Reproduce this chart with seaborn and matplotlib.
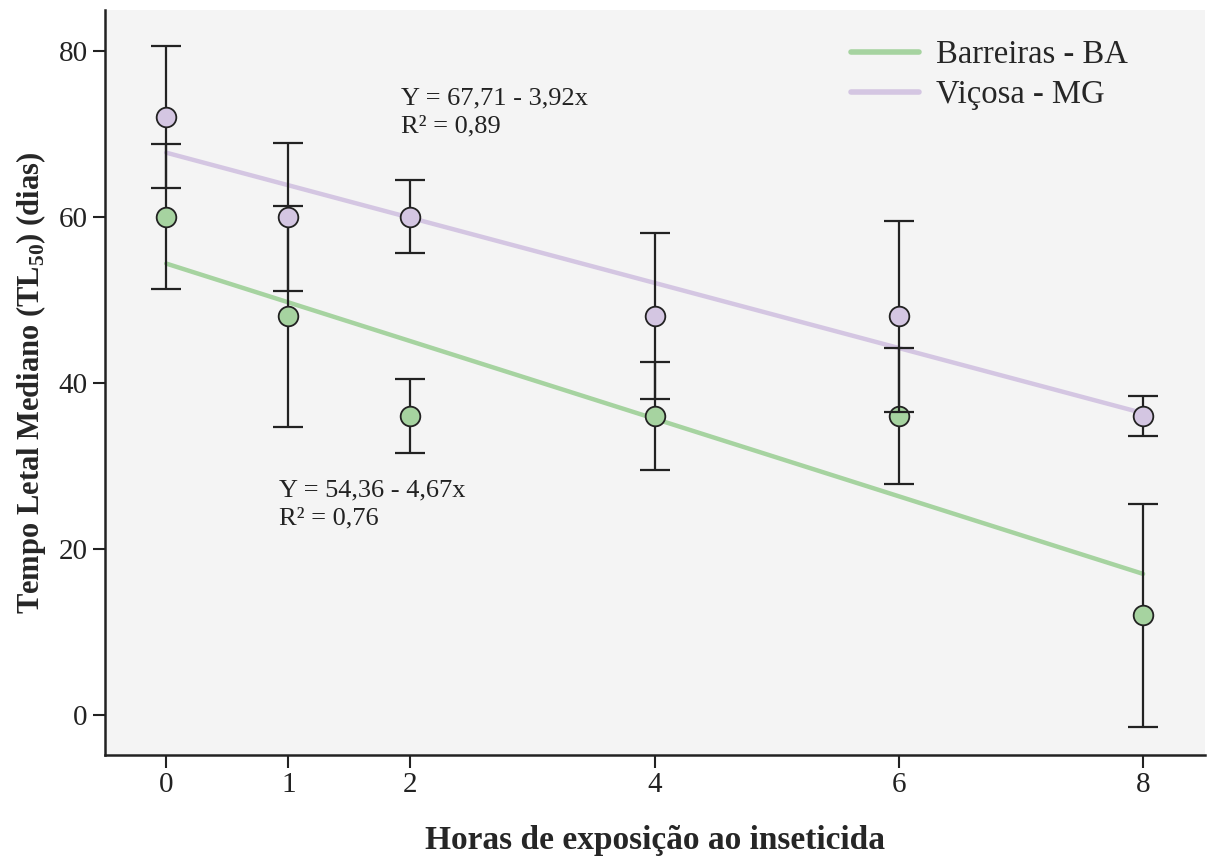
import matplotlib
matplotlib.use("Agg")
import matplotlib.pyplot as plt
import seaborn as sns
import pandas as pd
import numpy as np

# Data
horas = [0, 1, 2, 4, 6, 8]
barreiras = [60, 48, 36, 36, 36, 12]
barreiras_err = [8.7, 13.3, 4.5, 6.55, 8.2, 13.45]
vicosa = [72, 60, 60, 48, 48, 36]
vicosa_err = [8.55, 8.9, 4.4, 10.0, 11.5, 2.4]

# Regression coefficients (intercept, slope)
reg_barreiras = (54.36, -4.67)
reg_vicosa = (67.71, -3.92)

verde = "#a6d3a0"
lilas = "#d4c6e2"

sns.set_style("white")
plt.rcParams['font.family'] = ['Liberation Serif', 'DejaVu Serif']
plt.rcParams['mathtext.fontset'] = 'custom'
plt.rcParams['mathtext.rm'] = 'Liberation Serif'
plt.rcParams['mathtext.bf'] = 'Liberation Serif:bold'

fig = plt.figure(figsize=(12.09, 8.59), dpi=100)
ax = fig.add_axes([0.087, 0.121, 0.91, 0.867])
ax.set_facecolor("#f4f4f4")

# regression lines
x_line = [0, 8]
df_lines = pd.DataFrame({
    "x": x_line * 2,
    "y": [reg_barreiras[0] + reg_barreiras[1] * v for v in x_line]
         + [reg_vicosa[0] + reg_vicosa[1] * v for v in x_line],
    "grupo": ["Barreiras - BA"] * 2 + ["Viçosa - MG"] * 2,
})
sns.lineplot(data=df_lines, x="x", y="y", hue="grupo",
             palette=[verde, lilas], linewidth=3.2, ax=ax,
             solid_capstyle="round", zorder=1)

# error bars + points
for vals, errs, cor, z in [(barreiras, barreiras_err, verde, 3),
                           (vicosa, vicosa_err, lilas, 5)]:
    ax.errorbar(horas, vals, yerr=errs, fmt="none", ecolor="#222222",
                elinewidth=1.6, capsize=11, capthick=1.6, zorder=z)
    sns.scatterplot(x=horas, y=vals, color=cor, s=200, edgecolor="#222222",
                    linewidth=1.3, ax=ax, zorder=z + 1)

# equations
ax.text(1.92, 75.6, "Y = 67,71 - 3,92x\nR² = 0,89", fontsize=19,
        va="top", ha="left", color="#222222", linespacing=1.35)
ax.text(0.92, 28.4, "Y = 54,36 - 4,67x\nR² = 0,76", fontsize=19,
        va="top", ha="left", color="#222222", linespacing=1.35)

ax.set_xlim(-0.5, 8.51)
ax.set_ylim(-4.81, 84.85)
ax.set_xticks(horas)
ax.set_yticks([0, 20, 40, 60, 80])
ax.tick_params(axis="both", labelsize=21, length=9, width=1.5,
               direction="out", colors="#222222", bottom=True, left=True)

ax.set_xlabel("Horas de exposição ao inseticida", fontsize=24,
              fontweight="bold", labelpad=19)
ax.set_ylabel(r"Tempo Letal Mediano (TL$_{\mathbf{50}}$) (dias)", fontsize=22,
              fontweight="bold", labelpad=8)

for s in ["top", "right"]:
    ax.spines[s].set_visible(False)
for s in ["left", "bottom"]:
    ax.spines[s].set_color("#222222")
    ax.spines[s].set_linewidth(1.8)

leg = ax.legend(loc="upper right", frameon=False, fontsize=23.5,
                handlelength=2.1, handletextpad=0.5, bbox_to_anchor=(0.956, 1.0),
                labelspacing=0.3, title=None)
for h in leg.get_lines():
    h.set_linewidth(4)

fig.savefig("out.png", dpi=100)
